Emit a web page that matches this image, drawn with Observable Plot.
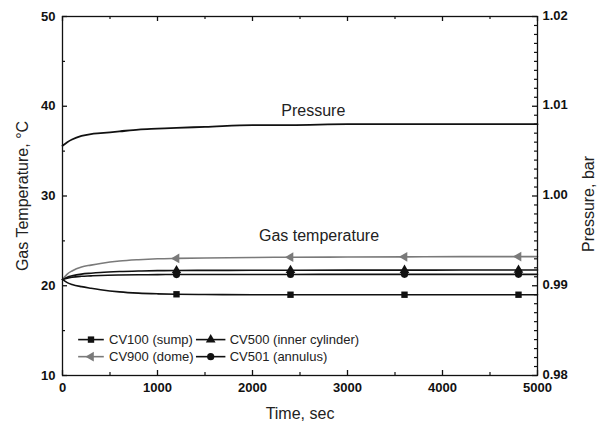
<!DOCTYPE html>
<html><head><meta charset="utf-8">
<script src="https://cdn.jsdelivr.net/npm/d3@7"></script>
<script src="https://cdn.jsdelivr.net/npm/@observablehq/plot@0.6"></script>
<style>
body{margin:0;background:#fff;}
#chart{width:602px;height:428px;}
#chart svg{font-family:"Liberation Sans",Arial,Helvetica,sans-serif;}
</style></head><body><div id="chart"></div>
<script>
// ---- data ----
const time  = [0, 50, 100, 200, 300, 400, 600, 800, 1000, 1200, 1500, 2000, 2400, 3000, 3600, 4200, 4800, 5000];
const cv100 = [20.7, 20.35, 20.15, 19.9, 19.72, 19.56, 19.32, 19.18, 19.1, 19.05, 19.02, 19.0, 19.0, 19.0, 19.0, 19.0, 19.0, 19.0];
const cv500 = [20.7, 20.95, 21.1, 21.3, 21.4, 21.48, 21.58, 21.64, 21.68, 21.7, 21.71, 21.72, 21.73, 21.74, 21.74, 21.75, 21.75, 21.75];
const cv900 = [20.7, 21.3, 21.65, 22.1, 22.3, 22.48, 22.75, 22.9, 23.0, 23.05, 23.1, 23.15, 23.18, 23.2, 23.22, 23.24, 23.25, 23.25];
const cv501 = [20.7, 20.85, 20.95, 21.05, 21.1, 21.15, 21.2, 21.22, 21.24, 21.25, 21.25, 21.26, 21.26, 21.27, 21.27, 21.27, 21.27, 21.27];
const pressure = [1.0056, 1.0060, 1.0063, 1.0067, 1.0069, 1.0070, 1.0072, 1.0074, 1.0075, 1.0076, 1.0077, 1.0079, 1.0079, 1.0080, 1.0080, 1.0080, 1.0080, 1.0080]; // bar
const markerTimes = [1200, 2400, 3600, 4800];
const seriesNames = ["CV100 (sump)", "CV500 (inner cylinder)", "CV900 (dome)", "CV501 (annulus)"];
const seriesValues = [cv100, cv500, cv900, cv501];
const xTicks = [0, 1000, 2000, 3000, 4000, 5000];
const xMinor = [500, 1500, 2500, 3500, 4500];
const tTicks = [10, 20, 30, 40, 50];
const tMinor = [15, 25, 35, 45];
const pTicks = [0.98, 0.99, 1.00, 1.01, 1.02];
const pMinor = [0.981,0.982,0.983,0.984,0.985,0.986,0.987,0.988,0.989,
                0.991,0.992,0.993,0.994,0.995,0.996,0.997,0.998,0.999,
                1.001,1.002,1.003,1.004,1.005,1.006,1.007,1.008,1.009,
                1.011,1.012,1.013,1.014,1.015,1.016,1.017,1.018,1.019];
const annotations = [{t: 2640, T: 39.5, text: "Pressure"}, {t: 2700, T: 25.6, text: "Gas temperature"}];
const xLabel = "Time, sec", yLabel = "Gas Temperature, \u00B0C", y2Label = "Pressure, bar";

// ---- styles / layout ----
const W = 602, H = 428, mL = 62, mR = 65, mT = 16, mB = 53;
const fw = W - mL - mR, fh = H - mT - mB;
const colors = ["#111", "#111", "#7a7a7a", "#111"];
const symbols = ["square", "triangle", "triangle", "circle"];
const rotations = [0, 0, -90, 0];
const toT = p => 10 + (p - 0.98) * 1000; // right-axis bar -> left-axis °C

const rows = [];
seriesNames.forEach((name, i) => time.forEach((t, j) => rows.push({name, t, T: seriesValues[i][j], rot: rotations[i]})));
const markerRows = rows.filter(d => markerTimes.includes(d.t));
const pRows = time.map((t, j) => ({t, p: pressure[j]}));

// legend layout (data units)
const legendRows = [14.0, 12.1];
const legendCols = [{x1: 170, x2: 440, m: 300, tx: 490}, {x1: 1410, x2: 1720, m: 1560, tx: 1760}];
const legend = seriesNames.map((name, i) => {
  const c = legendCols[i % 2], r = legendRows[Math.floor(i / 2)];
  return {name, y: r, x1: c.x1, x2: c.x2, m: c.m, tx: c.tx, rot: rotations[i]};
});

const plot = Plot.plot({
  width: W, height: H,
  marginLeft: mL, marginRight: mR, marginTop: mT, marginBottom: mB,
  x: {domain: [0, 5000], axis: null},
  y: {domain: [10, 50], axis: null},
  color: {domain: seriesNames, range: colors},
  symbol: {domain: seriesNames, range: symbols},
  marks: [
    Plot.line(pRows, {x: "t", y: d => toT(d.p), stroke: "#111", strokeWidth: 1.8, curve: "monotone-x"}),
    Plot.line(rows, {x: "t", y: "T", z: "name", stroke: "name", strokeWidth: 1.6, curve: "monotone-x"}),
    Plot.dot(markerRows, {x: "t", y: "T", symbol: "name", fill: "name", r: 3.6, rotate: "rot"}),
    Plot.text(annotations, {x: "t", y: "T", text: "text", fontSize: 16, fill: "#222"}),
    // legend
    Plot.ruleY(legend, {y: "y", x1: "x1", x2: "x2", stroke: "name", strokeWidth: 1.6}),
    Plot.dot(legend, {x: "m", y: "y", symbol: "name", fill: "name", r: 3.6, rotate: "rot"}),
    Plot.text(legend, {x: "tx", y: "y", text: "name", textAnchor: "start", fontSize: 13, fill: "#222"}),
    // frame and inward ticks
    Plot.frame({stroke: "#111", strokeWidth: 1.3}),
    Plot.tickX(xTicks, {x: d => d, insetTop: fh - 5, stroke: "#111", strokeWidth: 1.3}),
    Plot.tickX(xMinor, {x: d => d, insetTop: fh - 3, stroke: "#111", strokeWidth: 1.2}),
    Plot.tickX(xTicks, {x: d => d, insetBottom: fh - 5, stroke: "#111", strokeWidth: 1.3}),
    Plot.tickX(xMinor, {x: d => d, insetBottom: fh - 3, stroke: "#111", strokeWidth: 1.2}),
    Plot.tickY(tTicks, {y: d => d, insetRight: fw - 5, stroke: "#111", strokeWidth: 1.3}),
    Plot.tickY(tMinor, {y: d => d, insetRight: fw - 3, stroke: "#111", strokeWidth: 1.2}),
    Plot.tickY(pTicks, {y: d => toT(d), insetLeft: fw - 5, stroke: "#111", strokeWidth: 1.3}),
    Plot.tickY(pMinor, {y: d => toT(d), insetLeft: fw - 3, stroke: "#111", strokeWidth: 1.2}),
    // tick labels
    Plot.axisX(xTicks, {anchor: "bottom", tickSize: 0, tickPadding: 7, fontSize: 13, fontWeight: "bold", fill: "#111", label: null,
      tickFormat: d => String(d)}),
    Plot.axisY(tTicks, {anchor: "left", tickSize: 0, tickPadding: 7, fontSize: 13, fontWeight: "bold", fill: "#111", label: null}),
    Plot.axisY(pTicks.map(toT), {anchor: "right", tickSize: 0, tickPadding: 5, dy: -1, fontSize: 13, fontWeight: "bold", fill: "#111", label: null,
      tickFormat: d => (0.98 + (d - 10) / 1000).toFixed(2)}),
    // axis titles
    Plot.text([xLabel], {text: d => d, frameAnchor: "bottom", dy: 43, fontSize: 16, fill: "#222"}),
    Plot.text([yLabel], {text: d => d, frameAnchor: "left", textAnchor: "middle", dx: -40, rotate: -90, fontSize: 16, fill: "#222"}),
    Plot.text([y2Label], {text: d => d, frameAnchor: "right", textAnchor: "middle", dx: 51, dy: 8, rotate: -90, fontSize: 16, fill: "#222"})
  ]
});
document.getElementById("chart").appendChild(plot);
</script></body></html>
